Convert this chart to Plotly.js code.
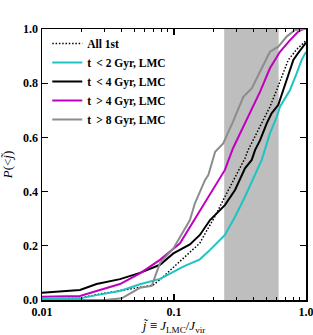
<!DOCTYPE html>
<html><head><meta charset="utf-8">
<script src="https://cdn.plot.ly/plotly-3.0.1.min.js"></script>
<style>html,body{margin:0;padding:0;background:#fff;}#plot{width:313px;height:335px;}</style>
</head><body><div id="plot"></div>
<script>
// Shaded band (LMC j range)
const bandX = [0.24, 0.62];

// All 1st (dotted)
const allX = [0.01,0.0194,0.0259,0.039,0.0552,0.0693,0.0783,0.0989,0.125,0.144,0.157,0.172,0.205,0.243,0.29,0.345,0.364,0.449,0.533,0.6,0.673,0.734,0.851,1.0];
const allY = [0.004,0.007,0.02,0.035,0.047,0.055,0.075,0.12,0.166,0.195,0.21,0.245,0.31,0.381,0.455,0.523,0.553,0.64,0.713,0.775,0.837,0.886,0.925,0.957];

// t < 2 Gyr (cyan)
const lt2X = [0.01,0.0194,0.0259,0.039,0.0552,0.0783,0.0989,0.1175,0.157,0.1875,0.243,0.29,0.345,0.411,0.462,0.533,0.6,0.635,0.757,0.851,0.927,1.0];
const lt2Y = [0.004,0.006,0.018,0.033,0.058,0.078,0.104,0.123,0.15,0.185,0.24,0.307,0.381,0.461,0.517,0.615,0.676,0.713,0.775,0.837,0.886,0.915];

// t < 4 Gyr (black)
const lt4X = [0.01,0.0194,0.0259,0.039,0.0552,0.0783,0.0989,0.111,0.1175,0.132,0.157,0.1875,0.243,0.29,0.345,0.388,0.411,0.449,0.504,0.549,0.617,0.673,0.734,0.802,0.851,0.927,1.0];
const lt4Y = [0.027,0.037,0.059,0.077,0.1,0.13,0.172,0.185,0.19,0.205,0.24,0.295,0.35,0.406,0.486,0.517,0.553,0.59,0.652,0.689,0.72,0.775,0.824,0.886,0.904,0.93,0.95];

// t > 4 Gyr (magenta)
const gt4X = [0.01,0.0194,0.0259,0.039,0.0552,0.0783,0.111,0.144,0.157,0.178,0.205,0.243,0.28,0.377,0.449,0.533,0.635,0.757,0.87,0.95,1.0];
const gt4Y = [0.012,0.015,0.033,0.059,0.098,0.148,0.209,0.30,0.325,0.369,0.42,0.48,0.56,0.695,0.769,0.855,0.916,0.959,0.99,1.0,1.0];

// t > 8 Gyr (gray)
const gt8X = [0.01,0.030,0.0402,0.0489,0.0552,0.0678,0.0783,0.0989,0.111,0.132,0.144,0.157,0.172,0.182,0.193,0.205,0.236,0.28,0.335,0.388,0.462,0.533,0.617,0.714,0.826,1.0];
const gt8Y = [0,0,0.006,0.031,0.045,0.052,0.136,0.19,0.234,0.295,0.357,0.40,0.443,0.461,0.504,0.547,0.578,0.658,0.75,0.781,0.855,0.916,0.935,0.972,0.996,1.0];

const xTickVals = [0.01, 0.1, 1];
const xTickText = ['0.01', '0.1', '1.0'];
const xMinorVals = [0.02,0.03,0.04,0.05,0.06,0.07,0.08,0.09,0.2,0.3,0.4,0.5,0.6,0.7,0.8,0.9];
const yTickVals = [0, 0.2, 0.4, 0.6, 0.8, 1.0];
const yTickText = ['0.0', '0.2', '0.4', '0.6', '0.8', '1.0'];

const serif = '"Liberation Serif", "Times New Roman", serif';

const traces = [
  {x: [bandX[0], bandX[1], bandX[1], bandX[0], bandX[0]], y: [0, 0, 1, 1, 0],
   mode: 'lines', fill: 'toself', fillcolor: '#bebebe', line: {width: 0, color: '#bebebe'},
   showlegend: false, hoverinfo: 'skip'},
  {x: allX, y: allY, mode: 'lines', name: 'All 1st', line: {color: '#000', width: 1.5, dash: '1.5px,1.8px'}},
  {x: lt2X, y: lt2Y, mode: 'lines', name: 't\u2009 < 2 Gyr, LMC', line: {color: '#1cc4c4', width: 2}},
  {x: lt4X, y: lt4Y, mode: 'lines', name: 't\u2009 < 4 Gyr, LMC', line: {color: '#000', width: 2}},
  {x: gt4X, y: gt4Y, mode: 'lines', name: 't\u2009 > 4 Gyr, LMC', line: {color: '#bf00bf', width: 2}},
  {x: gt8X, y: gt8Y, mode: 'lines', name: 't\u2009 > 8 Gyr, LMC', line: {color: '#8c8c8c', width: 2}}
];

const layout = {
  width: 313, height: 335,
  margin: {l: 42, r: 7, t: 29, b: 35, pad: 0},
  paper_bgcolor: '#fff', plot_bgcolor: '#fff',
  font: {family: serif, size: 12, color: '#000'},
  showlegend: true,
  legend: {x: 0.02, y: 1.0, xanchor: 'left', yanchor: 'top', bgcolor: 'rgba(0,0,0,0)',
           font: {family: serif, size: 11.5, weight: 'bold'}, tracegroupgap: 0, itemwidth: 30},
  xaxis: {type: 'log', range: [-2, 0], tickmode: 'array', tickvals: xTickVals, ticktext: xTickText,
          ticks: 'inside', ticklen: 6, tickwidth: 1.2, tickcolor: '#000',
          showline: true, linecolor: '#000', linewidth: 1.5, mirror: 'allticks',
          showgrid: false, zeroline: false, ticklabeloverflow: 'allow',
          tickfont: {family: serif, size: 12, weight: 'bold'},
          minor: {tickmode: 'array', tickvals: xMinorVals, ticks: 'inside', ticklen: 3, tickwidth: 1, tickcolor: '#000', showgrid: false},
          title: {text: '<i>j\u0303</i> \u2261 <i>J</i><sub>LMC</sub>/<i>J</i><sub>vir</sub>', font: {family: serif, size: 13}, standoff: 4}},
  yaxis: {range: [0, 1], tickmode: 'array', tickvals: yTickVals, ticktext: yTickText,
          ticks: 'inside', ticklen: 6, tickwidth: 1.2, tickcolor: '#000',
          showline: true, linecolor: '#000', linewidth: 1.5, mirror: 'allticks',
          showgrid: false, zeroline: false, ticklabeloverflow: 'allow',
          tickfont: {family: serif, size: 12, weight: 'bold'},
          title: {text: '<i>P</i>(&lt;<i>j\u0303</i>)', font: {family: serif, size: 13}, standoff: 8}}
};

Plotly.newPlot('plot', traces, layout, {staticPlot: true, displayModeBar: false});
</script></body></html>
